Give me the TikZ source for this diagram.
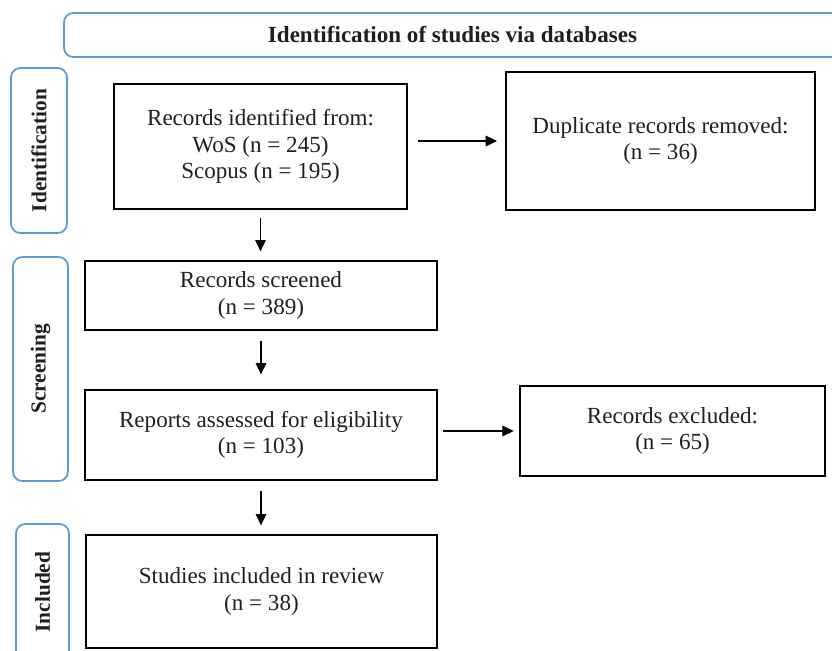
\documentclass[tikz,border=0pt]{standalone}
\usepackage{fontspec}
\setmainfont{Liberation Serif}
\usetikzlibrary{arrows.meta}
\definecolor{sideblue}{HTML}{5B9BD5}
\newcommand{\flowfont}{\fontsize{17.3}{19.8}\selectfont}
\newcommand{\phasefont}{\fontsize{16}{18}\selectfont\bfseries}
\tikzset{
  box/.style={draw=black, line width=1.5pt, align=center, inner sep=0pt, text=black!88, font=\flowfont},
  side/.style={draw=sideblue, line width=1.3pt, rounded corners=7pt, inner sep=0pt, text=black!88, font=\phasefont},
  arr/.style={-{Triangle[length=8.5pt,width=8pt]}, line width=0.8pt}
}
\begin{document}
\begin{tikzpicture}[x=0.75pt, y=-0.75pt]
    \useasboundingbox (0,0) rectangle (832,650);
    \clip (0,0) rectangle (832,650);

    % Banner and phases
    \node[side, minimum width=582.75pt, minimum height=33pt, font=\flowfont\bfseries] (banner) at (452.5,35) {Identification of studies via databases};
    \node[side, rotate=90, minimum width=123.75pt, minimum height=42pt] (idside) at (39,150.5) {Identification};
    \node[side, rotate=90, minimum width=168pt, minimum height=41.25pt] (scrside) at (40.5,369) {Screening};
    \node[side, rotate=90, minimum width=102pt, minimum height=39.75pt] (incside) at (42.5,592) {Included};

    % Boxes
    \node[box, minimum width=219.75pt, minimum height=93.75pt] (rec) at (260.5,146.5) {Records identified from:\\ WoS (n = 245)\\ Scopus (n = 195)};
    \node[box, minimum width=231.75pt, minimum height=103.5pt] (dup) at (660.5,141) {Duplicate records removed:\\ (n = 36)};
    \node[box, minimum width=264pt, minimum height=51.75pt] (scr) at (261,295.5) {Records screened\\ (n = 389)};
    \node[box, minimum width=264pt, minimum height=67.5pt] (rep) at (261,435) {Reports assessed for eligibility\\ (n = 103)};
    \node[box, minimum width=228.75pt, minimum height=67.5pt] (exc) at (672.5,431) {Records excluded:\\ (n = 65)};
    \node[box, minimum width=263.25pt, minimum height=84.75pt] (inc) at (261.5,591.5) {Studies included in review\\ (n = 38)};

    % Arrows
    \draw[arr, shorten <=7.5pt, shorten >=6pt] (rec.east |- dup.west) -- (dup.west);
    \draw[arr, shorten <=6pt, shorten >=6.5pt] (rec.south) -- (rec.south |- scr.north);
    \draw[arr, shorten <=7.5pt, shorten >=11pt] (scr.south) -- (scr.south |- rep.north);
    \draw[arr, shorten <=4pt, shorten >=4pt] (rep.east |- exc.west) -- (exc.west);
    \draw[arr, shorten <=7.5pt, shorten >=6.5pt] (rep.south) -- (rep.south |- inc.north);
\end{tikzpicture}
\end{document}
